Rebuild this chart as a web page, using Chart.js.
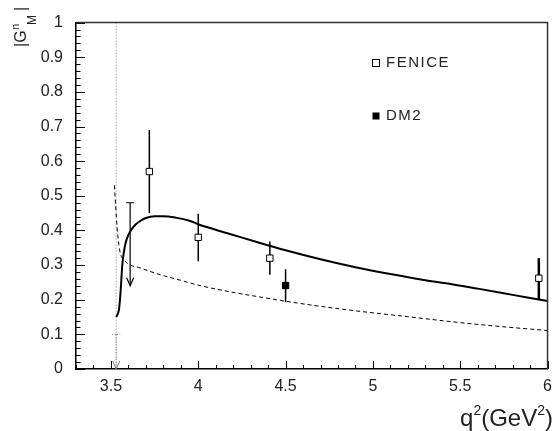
<!DOCTYPE html>
<html>
<head>
<meta charset="utf-8">
<script src="https://cdn.jsdelivr.net/npm/chart.js@4.4.1/dist/chart.umd.min.js"></script>
<style>
  html, body { margin: 0; padding: 0; background: #fff; }
  #wrap { width: 560px; height: 431px; position: relative; }
</style>
</head>
<body>
<div id="wrap"><canvas id="c"></canvas></div>
<script>
/* ==== data ==== */
// model curve, solid
const fitX = [3.53, 3.54, 3.547, 3.556, 3.565, 3.575, 3.585, 3.60, 3.613, 3.641, 3.67, 3.70, 3.75, 3.80, 3.87,
              3.95, 4.00, 4.10, 4.20, 4.34, 4.50, 4.70, 4.90, 5.10, 5.30, 5.46, 5.60, 5.80, 6.00];
const fitY = [0.15, 0.16, 0.175, 0.228, 0.30, 0.34, 0.366, 0.387, 0.399, 0.417, 0.428, 0.436, 0.441, 0.441, 0.437,
              0.428, 0.418, 0.402, 0.387, 0.366, 0.343, 0.317, 0.294, 0.274, 0.256, 0.244, 0.232, 0.214, 0.196];
// second curve, dashed
const dashX = [3.52, 3.527, 3.535, 3.545, 3.556, 3.575, 3.60, 3.66, 3.77, 3.90, 4.00, 4.15, 4.34, 4.60, 4.90,
               5.20, 5.46, 5.70, 6.00];
const dashY = [0.53, 0.47, 0.41, 0.36, 0.33, 0.315, 0.303, 0.293, 0.274, 0.256, 0.242, 0.226, 0.209, 0.188, 0.168,
               0.151, 0.136, 0.124, 0.111];

const feniceX  = [3.72, 4.00, 4.41, 5.95];
const feniceY  = [0.57, 0.38, 0.32, 0.262];
const feniceLo = [0.45, 0.311, 0.272, 0.20];
const feniceHi = [0.69, 0.448, 0.368, 0.32];

const dm2X  = [4.50];
const dm2Y  = [0.241];
const dm2Lo = [0.193];
const dm2Hi = [0.288];

// upper limits: bar top and arrow tip
const limX   = [3.61, 3.53];
const limTop = [0.48, 0.10];
const limTip = [0.24, 0.0];

const threshold = 3.53;   // 4 M_n^2

const xTicks = [3.5, 4, 4.5, 5, 5.5, 6];
const yTicks = [0, 0.1, 0.2, 0.3, 0.4, 0.5, 0.6, 0.7, 0.8, 0.9, 1];

const FONT = '"Liberation Sans", Arial, Helvetica, sans-serif';

const pts = (xs, ys) => xs.map((x, i) => ({ x: x, y: ys[i] }));

/* ==== plugins ==== */
// inward ticks, top/right frame, threshold line, error bars
const decor = {
  id: 'decor',
  beforeDatasetsDraw(chart) {
    const { ctx, chartArea: a, scales: { x, y } } = chart;
    ctx.save();

    // threshold
    ctx.strokeStyle = '#888';
    ctx.lineWidth = 1;
    ctx.setLineDash([1, 2]);
    ctx.beginPath();
    ctx.moveTo(x.getPixelForValue(threshold), a.top);
    ctx.lineTo(x.getPixelForValue(threshold), a.bottom);
    ctx.stroke();
    ctx.setLineDash([]);

    // error bars
    ctx.strokeStyle = '#000';
    feniceX.forEach((v, i) => {
      ctx.lineWidth = i === 3 ? 2.5 : 1.5;
      const px = x.getPixelForValue(v);
      ctx.beginPath();
      ctx.moveTo(px, y.getPixelForValue(feniceLo[i]));
      ctx.lineTo(px, y.getPixelForValue(feniceHi[i]));
      ctx.stroke();
    });
    ctx.lineWidth = 1.5;
    dm2X.forEach((v, i) => {
      const px = x.getPixelForValue(v);
      ctx.beginPath();
      ctx.moveTo(px, y.getPixelForValue(dm2Lo[i]));
      ctx.lineTo(px, y.getPixelForValue(dm2Hi[i]));
      ctx.stroke();
    });

    // upper limits
    limX.forEach((v, i) => {
      const px = x.getPixelForValue(v);
      const top = y.getPixelForValue(limTop[i]);
      const tip = y.getPixelForValue(limTip[i]);
      ctx.strokeStyle = i === 0 ? '#000' : '#777';
      ctx.lineWidth = i === 0 ? 1.2 : 1;
      ctx.setLineDash(i === 0 ? [] : [1, 1.5]);
      ctx.beginPath();
      ctx.moveTo(px, top);
      ctx.lineTo(px, tip);
      ctx.moveTo(px - 4, top);
      ctx.lineTo(px + 4, top);
      ctx.stroke();
      ctx.setLineDash([]);
      ctx.beginPath();
      ctx.moveTo(px - 3.5, tip - 8);
      ctx.lineTo(px, tip);
      ctx.lineTo(px + 3.5, tip - 8);
      ctx.stroke();
    });
    ctx.restore();
  },
  afterDraw(chart) {
    const { ctx, chartArea: a, scales: { x, y } } = chart;
    ctx.save();
    ctx.strokeStyle = '#000';
    ctx.lineWidth = 1;

    // x ticks every 0.1, major every 0.5
    ctx.beginPath();
    for (let k = 33; k <= 60; k++) {
      const px = Math.round(x.getPixelForValue(k / 10)) + 0.5;
      const len = k % 5 === 0 ? 8 : 4;
      ctx.moveTo(px, a.bottom);
      ctx.lineTo(px, a.bottom - len);
    }
    // y ticks every 0.02, major every 0.1
    for (let k = 0; k <= 50; k++) {
      const py = Math.round(y.getPixelForValue(k / 50)) + 0.5;
      const len = k % 5 === 0 ? 9 : 4.5;
      ctx.moveTo(a.left, py);
      ctx.lineTo(a.left + len, py);
    }
    ctx.stroke();

    // frame
    ctx.lineWidth = 1.5;
    ctx.strokeStyle = '#333';
    ctx.beginPath();
    ctx.moveTo(a.left, a.top);
    ctx.lineTo(a.right, a.top);
    ctx.lineTo(a.right, a.bottom);
    ctx.stroke();

    // legend
    ctx.lineWidth = 1;
    ctx.strokeStyle = '#000';
    ctx.fillStyle = '#fff';
    ctx.fillRect(372.5, 59.5, 7, 7);
    ctx.strokeRect(372.5, 59.5, 7, 7);
    ctx.fillStyle = '#000';
    ctx.fillRect(372.5, 112.5, 7, 7);
    ctx.font = '15px ' + FONT;
    ctx.letterSpacing = '1.5px';
    ctx.textBaseline = 'middle';
    ctx.fillStyle = '#222';
    ctx.fillText('FENICE', 386, 63);
    ctx.fillText('DM2', 386, 116);
    ctx.letterSpacing = '0px';

    // x title q^2(GeV^2), right aligned
    const parts = [['q', 24, 0], ['2', 14, -11], ['(GeV', 24, 0], ['2', 14, -11], [')', 24, 0]];
    let w = 0;
    parts.forEach(p => { ctx.font = p[1] + 'px ' + FONT; w += ctx.measureText(p[0]).width; });
    let cx = 553 - w;
    ctx.textBaseline = 'alphabetic';
    parts.forEach(p => {
      ctx.font = p[1] + 'px ' + FONT;
      ctx.fillText(p[0], cx, 426 + p[2]);
      cx += ctx.measureText(p[0]).width;
    });

    // y title |G^n_M|, rotated; [text, size, pos along text, shift]
    ctx.translate(26, 47);
    ctx.rotate(-Math.PI / 2);
    const yparts = [['|G', 16, 0, 0], ['n', 10, 17.5, -7], ['M', 12, 22, 10], ['|', 16, 36, 0]];
    yparts.forEach(p => {
      ctx.font = p[1] + 'px ' + FONT;
      ctx.fillText(p[0], p[2], p[3]);
    });
    ctx.restore();
  }
};

/* ==== chart ==== */
new Chart(document.getElementById('c'), {
  type: 'scatter',
  data: {
    datasets: [
      { data: pts(fitX, fitY), showLine: true, borderColor: '#000', borderWidth: 2,
        pointRadius: 0, cubicInterpolationMode: 'monotone' },
      { data: pts(dashX, dashY), showLine: true, borderColor: '#000', borderWidth: 1,
        borderDash: [4, 3], pointRadius: 0, cubicInterpolationMode: 'monotone' },
      { data: pts(feniceX, feniceY), pointStyle: 'rect', pointRadius: 4.5,
        backgroundColor: '#fff', borderColor: '#000', borderWidth: 1 },
      { data: pts(dm2X, dm2Y), pointStyle: 'rect', pointRadius: 4.5,
        backgroundColor: '#000', borderColor: '#000', borderWidth: 1 }
    ]
  },
  options: {
    responsive: true,
    maintainAspectRatio: false,
    animation: false,
    events: [],
    layout: { padding: { top: 8, right: 5, left: 0, bottom: 0 } },
    plugins: { legend: { display: false }, tooltip: { enabled: false } },
    scales: {
      x: {
        type: 'linear', min: 3.3, max: 6.0,
        afterFit: s => { s.height = 62; },
        afterBuildTicks: s => { s.ticks = xTicks.map(v => ({ value: v })); },
        grid: { display: false, drawTicks: false },
        border: { display: true, color: '#000', width: 1.5 },
        ticks: { padding: 8, color: '#222', font: { family: FONT, size: 16 },
                 callback: v => String(+v.toFixed(1)) }
      },
      y: {
        type: 'linear', min: 0, max: 1,
        afterFit: s => { s.width = 76; },
        afterBuildTicks: s => { s.ticks = yTicks.map(v => ({ value: v })); },
        grid: { display: false, drawTicks: false },
        border: { display: true, color: '#000', width: 1.5 },
        ticks: { padding: 13, color: '#222', font: { family: FONT, size: 16 },
                 callback: v => String(+v.toFixed(1)) }
      }
    }
  },
  plugins: [decor]
});
</script>
</body>
</html>
